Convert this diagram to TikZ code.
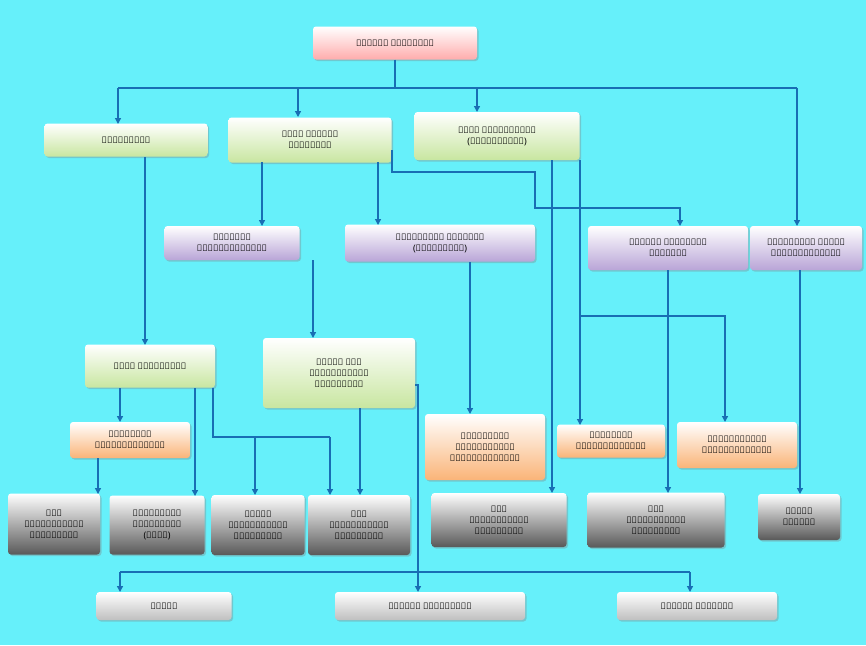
\documentclass[tikz,border=0pt]{standalone}
\usepackage{fontspec}
\setmainfont{Noto Sans}
\usetikzlibrary{arrows.meta,shadows}
\definecolor{bg}{RGB}{102,240,250}
\definecolor{ln}{RGB}{24,110,180}
\begin{document}
\begin{tikzpicture}[x=1pt,y=-1pt,
 box/.style={draw=none,rounded corners=3pt,align=center,font=\bfseries\fontsize{9}{11}\selectfont,inner sep=2pt,drop shadow={opacity=0.35,shadow xshift=1.5pt,shadow yshift=-1.5pt}},
 pink/.style={box,top color=white,bottom color=pink!90!red},
 green/.style={box,top color=white,bottom color={rgb,255:red,200;green,230;blue,160}},
 purp/.style={box,top color=white,bottom color={rgb,255:red,185;green,165;blue,215}},
 orng/.style={box,top color=white,bottom color={rgb,255:red,250;green,180;blue,120}},
 gray/.style={box,top color=white,bottom color=black!65},
 lgray/.style={box,top color=white,bottom color=black!25},
 c/.style={draw=ln,line width=1.3pt},
 a/.style={c,-{Triangle[width=6pt,length=6pt]}}]
\fill[bg] (0,0) rectangle (866,645);
\useasboundingbox (0,0) rectangle (866,645);
\def\bx#1#2#3#4#5#6#7{\node[#2,minimum width=#5,minimum height=#6] (#1) at (#3,#4) {#7};}
\bx{top}{pink}{395}{43}{164}{33}{பிரதேச செயலாளர்}
\bx{kan}{green}{126}{140}{163}{33}{கணக்காளர்}
\bx{upc}{green}{310}{140}{163}{45}{உதவி பிரதேச\\செயலாளர்}
\bx{upp}{green}{497}{136}{165}{48}{உதவி பணிப்பாளர்\\(திட்டமிடல்)}
\bx{niru}{purp}{232}{243}{135}{34}{நிர்வாக\\உத்தியோகத்தர்}
\bx{sam}{purp}{440}{243}{190}{37}{சமுர்த்தி மேலாளர்\\(தலைமையகம்)}
\bx{mel}{purp}{668}{248}{160}{44}{மேலதிக பதிவாளர்\\ஜெனரால்}
\bx{nkg}{purp}{806}{248}{112}{44}{நிர்வாகம் கிராம\\உத்தியோகத்தர்}
\bx{nithi}{green}{150}{366}{130}{43}{நிதி உதவியாளர்}
\bx{thal}{green}{339}{373}{152}{70}{தலைமை அரச\\முகாமைத்துவ\\உதவியாளர்}
\bx{oyv}{orng}{130}{440}{120}{36}{ஓய்வூதிய\\உத்தியோகத்தர்}
\bx{sab}{orng}{485}{447}{120}{66}{சமுர்த்தி\\அபிவிருத்தி\\உத்தியோகத்தர்}
\bx{vel}{orng}{611}{441}{108}{33}{வெளிக்கள\\உத்தியோகத்தர்}
\bx{abi}{orng}{737}{445}{120}{46}{அபிவிருத்தி\\உத்தியோகத்தர்}
\bx{g1}{gray}{54}{524}{92}{61}{அரச\\முகாமைத்துவ\\உதவியாளர்}
\bx{g2}{gray}{157}{525}{95}{59}{நிகழ்ச்சி\\உதவியாளர்\\(நிதி)}
\bx{g3}{gray}{258}{525}{93}{60}{தகவல்\\தொழில்நுட்ப\\உதவியாளர்}
\bx{g4}{gray}{359}{525}{102}{60}{அரச\\முகாமைத்துவ\\உதவியாளர்}
\bx{g5}{gray}{499}{520}{135}{54}{அரச\\முகாமைத்துவ\\உதவியாளர்}
\bx{g6}{gray}{656}{520}{137}{55}{அரச\\முகாமைத்துவ\\உதவியாளர்}
\bx{g7}{gray}{799}{517}{82}{46}{கிராம\\சேவகர்}
\bx{sar}{lgray}{164}{606}{135}{28}{சாரதி}
\bx{alu}{lgray}{430}{606}{190}{28}{அலுவலக உதவியாளர்}
\bx{kav}{lgray}{697}{606}{160}{28}{அலுவலக காவலாளி}
% top bus
\coordinate (t1) at (395,88);
\draw[c] (top.south) -- (t1);
\draw[c] (118,88) -- (797,88);
\draw[a] (118,88) -- (118,124);
\draw[a] (298,88) -- (298,117);
\draw[a] (477,88) -- (477,112);
\draw[a] (797,88) -- (797,226);
% from upc
\draw[a] (262,162) -- (262,226);
\draw[a] (378,162) -- (378,225);
\draw[a] (392,150) -- (392,172) -- (535,172) -- (535,208) -- (680,208) -- (680,226);
% others
\draw[a] (145,157) -- (145,345);
\draw[a] (313,260) -- (313,338);
\draw[a] (470,262) -- (470,414);
\draw[a] (668,270) -- (668,493);
\draw[a] (800,270) -- (800,494);
\draw[a] (552,160) -- (552,493);
\draw[a] (580,160) -- (580,425);
\draw[a] (580,316) -- (725,316) -- (725,422);
\draw[a] (120,388) -- (120,422);
\draw[a] (195,388) -- (195,496);
\draw[c] (213,388) -- (213,437) -- (330,437);
\draw[a] (255,437) -- (255,495);
\draw[a] (330,437) -- (330,495);
\draw[a] (98,458) -- (98,494);
\draw[a] (360,408) -- (360,495);
\draw[a] (415,385) -- (418,385) -- (418,592);
\draw[c] (120,572) -- (690,572);
\draw[a] (120,572) -- (120,592);
\draw[a] (690,572) -- (690,592);
\end{tikzpicture}
\end{document}
